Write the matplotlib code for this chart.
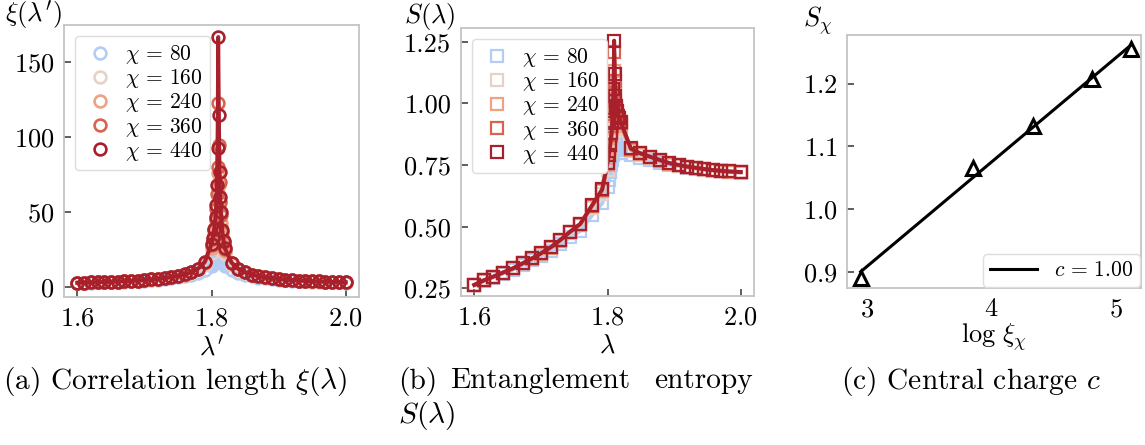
import matplotlib
matplotlib.use("Agg")
import matplotlib.pyplot as plt

plt.rcParams["font.family"] = "serif"
plt.rcParams["font.serif"] = ["cmr10"]
plt.rcParams["mathtext.fontset"] = "cm"
plt.rcParams["axes.formatter.use_mathtext"] = True

# --- data ---
chis = [80, 160, 240, 360, 440]
colors = ["#b4cdf5", "#e6d2c6", "#eea283", "#d8634f", "#a8202b"]

# (a) correlation length
lam_a = [1.60, 1.61, 1.62, 1.63, 1.64, 1.65, 1.66, 1.67, 1.68, 1.69,
         1.70, 1.71, 1.72, 1.73, 1.74, 1.75, 1.76, 1.77, 1.78, 1.79,
         1.800, 1.802, 1.804, 1.806, 1.807, 1.808, 1.809, 1.810, 1.811,
         1.812, 1.813, 1.814, 1.816, 1.818,
         1.82, 1.83, 1.84, 1.85, 1.86, 1.87, 1.88, 1.89, 1.90, 1.91,
         1.92, 1.93, 1.94, 1.95, 1.96, 1.97, 1.98, 1.99, 2.00]

xi_80 = [2.9, 3.0, 3.1, 3.2, 3.3, 3.4, 3.6, 3.8, 4.0, 4.2,
         4.5, 4.8, 5.1, 5.5, 6.0, 6.6, 7.4, 8.4, 9.8, 11.8,
         14.5, 15.5, 16.5, 17.5, 18.0, 18.5, 18.8, 19.1, 18.8,
         18.4, 18.0, 17.5, 16.5, 15.5,
         14.5, 11.5, 9.5, 8.2, 7.2, 6.5, 5.9, 5.4, 5.0, 4.7,
         4.4, 4.2, 4.0, 3.8, 3.65, 3.5, 3.35, 3.25, 3.15]
xi_160 = [3.0, 3.1, 3.2, 3.4, 3.5, 3.7, 3.8, 4.1, 4.3, 4.5,
          4.8, 5.1, 5.5, 6.0, 6.6, 7.3, 8.3, 9.6, 11.6, 15.0,
          23, 26, 30, 34, 37, 40, 44, 47, 45,
          41, 37, 34, 29, 25,
          22, 15.0, 11.6, 9.6, 8.2, 7.2, 6.4, 5.9, 5.4, 5.0,
          4.7, 4.45, 4.2, 4.0, 3.8, 3.65, 3.5, 3.35, 3.25]
xi_240 = [3.0, 3.1, 3.2, 3.4, 3.5, 3.7, 3.8, 4.1, 4.3, 4.5,
          4.8, 5.2, 5.6, 6.1, 6.8, 7.5, 8.5, 9.9, 12.2, 16.2,
          26, 30, 35, 41, 46, 53, 63, 76, 68,
          57, 49, 43, 34, 28,
          24.5, 16.0, 12.1, 9.9, 8.4, 7.35, 6.55, 6.0, 5.5, 5.1,
          4.8, 4.5, 4.25, 4.05, 3.85, 3.7, 3.55, 3.4, 3.3]
xi_360 = [3.0, 3.1, 3.2, 3.4, 3.5, 3.7, 3.8, 4.1, 4.3, 4.5,
          4.8, 5.2, 5.6, 6.1, 6.8, 7.5, 8.6, 10.1, 12.4, 16.7,
          28, 32, 38, 45, 52, 62, 80, 123, 95,
          70, 57, 48, 37, 30,
          25.5, 16.3, 12.2, 10.0, 8.5, 7.4, 6.6, 6.0, 5.5, 5.1,
          4.8, 4.5, 4.25, 4.05, 3.85, 3.7, 3.55, 3.4, 3.3]
xi_440 = [3.0, 3.1, 3.2, 3.4, 3.5, 3.7, 3.8, 4.1, 4.3, 4.5,
          4.8, 5.2, 5.6, 6.1, 6.8, 7.5, 8.6, 10.1, 12.5, 17.0,
          29, 33, 39, 47, 55, 68, 93, 167, 115,
          77, 60, 50, 38, 31,
          26, 16.5, 12.3, 10.0, 8.5, 7.4, 6.6, 6.0, 5.5, 5.1,
          4.8, 4.5, 4.25, 4.05, 3.85, 3.7, 3.55, 3.4, 3.3]

# (b) entanglement entropy
lam_b = [1.600, 1.614, 1.628, 1.643, 1.658, 1.673, 1.687, 1.700, 1.715,
         1.729, 1.744, 1.759, 1.777, 1.792,
         1.800, 1.802, 1.804, 1.806, 1.807, 1.808, 1.809, 1.810, 1.811,
         1.812, 1.813, 1.814, 1.816, 1.818,
         1.820, 1.835, 1.849, 1.864, 1.879, 1.893, 1.908, 1.920, 1.933,
         1.945, 1.958, 1.970, 1.983, 2.000]

S_80 = [0.262, 0.279, 0.294, 0.310, 0.326, 0.345, 0.363, 0.381, 0.403,
        0.428, 0.457, 0.483, 0.547, 0.595,
        0.66, 0.69, 0.72, 0.75, 0.77, 0.79, 0.82, 0.89, 0.86,
        0.84, 0.83, 0.82, 0.81, 0.80,
        0.80, 0.790, 0.780, 0.770, 0.760, 0.751, 0.745, 0.740, 0.735,
        0.731, 0.727, 0.724, 0.721, 0.719]
S_160 = [0.264, 0.282, 0.297, 0.314, 0.331, 0.351, 0.370, 0.390, 0.414,
         0.441, 0.476, 0.505, 0.575, 0.632,
         0.73, 0.76, 0.80, 0.84, 0.87, 0.91, 0.97, 1.065, 0.99,
         0.95, 0.93, 0.92, 0.91, 0.90,
         0.89, 0.808, 0.792, 0.780, 0.767, 0.756, 0.748, 0.742, 0.737,
         0.732, 0.728, 0.725, 0.722, 0.720]
S_240 = [0.264, 0.282, 0.297, 0.314, 0.331, 0.352, 0.371, 0.391, 0.415,
         0.443, 0.479, 0.509, 0.583, 0.644,
         0.75, 0.78, 0.82, 0.86, 0.90, 0.95, 1.02, 1.133, 1.05,
         0.99, 0.96, 0.94, 0.93, 0.92,
         0.91, 0.812, 0.795, 0.782, 0.768, 0.756, 0.749, 0.743, 0.738,
         0.733, 0.729, 0.726, 0.723, 0.721]
S_360 = [0.264, 0.282, 0.297, 0.314, 0.331, 0.352, 0.372, 0.392, 0.417,
         0.446, 0.480, 0.511, 0.586, 0.649,
         0.76, 0.79, 0.83, 0.87, 0.91, 0.97, 1.04, 1.207, 1.09,
         1.01, 0.98, 0.96, 0.94, 0.93,
         0.92, 0.816, 0.797, 0.784, 0.770, 0.758, 0.750, 0.744, 0.739,
         0.734, 0.730, 0.727, 0.724, 0.722]
S_440 = [0.264, 0.282, 0.297, 0.314, 0.331, 0.352, 0.372, 0.392, 0.417,
         0.446, 0.480, 0.511, 0.588, 0.652,
         0.76, 0.79, 0.83, 0.88, 0.92, 0.98, 1.06, 1.255, 1.12,
         1.03, 0.99, 0.97, 0.95, 0.94,
         0.925, 0.818, 0.798, 0.784, 0.770, 0.758, 0.750, 0.744, 0.739,
         0.734, 0.730, 0.727, 0.724, 0.722]

# (c) central charge fit
log_xi = [2.95, 3.85, 4.33, 4.81, 5.12]
S_chi = [0.890, 1.065, 1.133, 1.207, 1.255]
fit_x = [2.95, 5.12]
fit_y = [0.900, 1.262]

xi_all = [xi_80, xi_160, xi_240, xi_360, xi_440]
S_all = [S_80, S_160, S_240, S_360, S_440]

W, H = 1145, 445
fig = plt.figure(figsize=(W / 100, H / 100), dpi=100)


def box(l, r, t, b):
    return [l / W, 1 - b / H, (r - l) / W, (b - t) / H]


def style(ax):
    for s in ax.spines.values():
        s.set_color("#c4c4c4")
        s.set_linewidth(1.3)
    ax.tick_params(direction="in", length=5, width=1.1, color="#333333",
                   labelsize=19, pad=7)


ax1 = fig.add_axes(box(64, 359, 25, 297))
ax2 = fig.add_axes(box(461, 754, 28, 296))
ax3 = fig.add_axes(box(847, 1141, 35, 288))

for chi, c, xs in zip(chis, colors, xi_all):
    ax1.plot(lam_a, xs, "-", color=c, lw=2.8)
    ax1.plot(lam_a, xs, "o", ls="none", mfc="none", mec=c, ms=8.5, mew=1.9,
             label=r"$\chi\,=\,%d$" % chi)
for chi, c, ss in zip(chis, colors, S_all):
    ax2.plot(lam_b, ss, "-", color=c, lw=2.8)
    ax2.plot(lam_b, ss, "s", ls="none", mfc="none", mec=c, ms=9, mew=1.6,
             label=r"$\chi\,=\,%d$" % chi)

ax1.set_xlim(1.58, 2.02)
ax1.set_ylim(-6.5, 175)
ax1.set_xticks([1.6, 1.8, 2.0])
ax1.set_yticks([0, 50, 100, 150])
ax1.set_xlabel(r"$\lambda'$", fontsize=19, labelpad=3)

ax2.set_xlim(1.58, 2.02)
ax2.set_ylim(0.219, 1.306)
ax2.set_xticks([1.6, 1.8, 2.0])
ax2.set_yticks([0.25, 0.5, 0.75, 1.0, 1.25])
ax2.set_yticklabels(["0.25", "0.50", "0.75", "1.00", "1.25"])
ax2.set_xlabel(r"$\lambda$", fontsize=19, labelpad=3)

ax3.plot(fit_x, fit_y, "-", color="black", lw=2.2, label=r"$c\,=\,1.00$")
ax3.plot(log_xi, S_chi, "^", ls="none", mfc="none", mec="black", ms=9.5, mew=2.2)
ax3.set_xlim(2.84, 5.2)
ax3.set_ylim(0.874, 1.278)
ax3.set_xticks([3, 4, 5])
ax3.set_yticks([0.9, 1.0, 1.1, 1.2])
ax3.set_xlabel(r"$\log\,\xi_\chi$", fontsize=19, labelpad=0)

for ax in (ax1, ax2, ax3):
    style(ax)

for ax in (ax1, ax2):
    leg = ax.legend(loc="upper left", fontsize=15.5, handlelength=1.6,
                    handletextpad=0.4, labelspacing=0.05, borderpad=0.35,
                    borderaxespad=0.5, framealpha=1)
    leg.get_frame().set_edgecolor("#dddddd")
leg = ax3.legend(loc="lower right", fontsize=15.5, handlelength=2.2,
                 borderpad=0.3, borderaxespad=0.05, framealpha=1)
leg.get_frame().set_edgecolor("#dddddd")

fig.text(33 / W, 1 - 15 / H, r"$\xi(\lambda')$", fontsize=19, ha="center", va="center")
fig.text(430 / W, 1 - 16 / H, r"$S(\lambda)$", fontsize=19, ha="center", va="center")
fig.text(818 / W, 1 - 21 / H, r"$S_\chi$", fontsize=19, ha="center", va="center")

fig.text(3 / W, 1 - 381 / H, r"(a) Correlation length $\xi(\lambda)$",
         fontsize=21.2, ha="left", va="center")
fig.text(398 / W, 1 - 381 / H, "(b)", fontsize=21.2, ha="left", va="center")
fig.text(450 / W, 1 - 381 / H, "Entanglement", fontsize=21.2, ha="left", va="center")
fig.text(753 / W, 1 - 381 / H, "entropy", fontsize=21.2, ha="right", va="center")
fig.text(398 / W, 1 - 415 / H, r"$S(\lambda)$", fontsize=21.2, ha="left", va="center")
fig.text(841 / W, 1 - 381 / H, r"(c) Central charge $c$",
         fontsize=21.2, ha="left", va="center")

fig.savefig("out.png", dpi=100)
